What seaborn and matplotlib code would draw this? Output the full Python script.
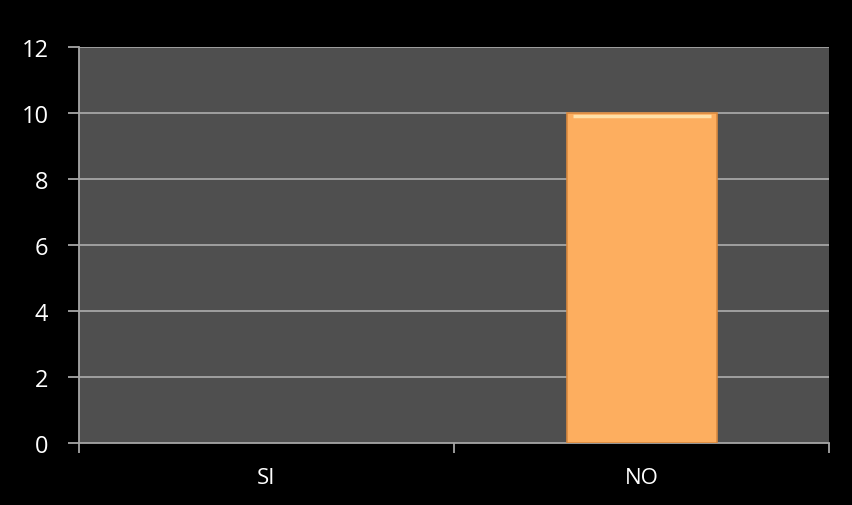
import matplotlib
matplotlib.use("Agg")
import matplotlib.pyplot as plt
import seaborn as sns
import pandas as pd
from matplotlib.ticker import FixedLocator

categories = ["SI", "NO"]
values = [0, 10]
yticks = [0, 2, 4, 6, 8, 10, 12]

df = pd.DataFrame({"cat": categories, "val": values})

sns.set_style("dark")
plt.rcParams['font.family'] = ['Open Sans', 'DejaVu Sans']

fig = plt.figure(figsize=(8.52, 5.06), dpi=100, facecolor="black")
ax = fig.add_axes([79/852, 1-444/506, (829-79)/852, (444-48)/506])
ax.set_facecolor("#4f4f4f")

sns.barplot(data=df, x="cat", y="val", ax=ax, color="#fdae5f", width=0.40,
            edgecolor="#d9893f", linewidth=1.2, saturation=1, zorder=3)

# hide outline for empty bars, add bevel highlight on filled ones
for p in ax.patches:
    if p.get_height() == 0:
        p.set_linewidth(0)
    else:
        x0, w, h = p.get_x(), p.get_width(), p.get_height()
        ax.plot([x0 + w * 0.04, x0 + w * 0.96], [h - 0.08, h - 0.08],
                color="#ffe0a8", lw=2.5, zorder=4, solid_capstyle="butt")

ax.set_xlim(-0.5, len(categories) - 0.5)
ax.set_ylim(0, 12)
ax.set_yticks(yticks)
ax.set_yticklabels([str(t) for t in yticks])
ax.grid(False)
for t in yticks[1:]:
    ax.axhline(t, color="#a6a6a6", lw=1.3, zorder=1)

ax.set_xlabel("")
ax.set_ylabel("")
ax.tick_params(axis="y", which="major", colors="#a6a6a6", labelcolor="white",
               labelsize=17, length=8, width=1.3, direction="out", left=True, pad=14)
ax.tick_params(axis="x", which="major", length=0, labelcolor="white", labelsize=16, pad=17)
ax.xaxis.set_minor_locator(FixedLocator([-0.5, 0.5, 1.5]))
ax.tick_params(axis="x", which="minor", colors="#a6a6a6", length=7, width=1.3,
               direction="out", bottom=True)

for side in ["top", "right"]:
    ax.spines[side].set_visible(False)
for side in ["left", "bottom"]:
    ax.spines[side].set_visible(True)
    ax.spines[side].set_color("#a6a6a6")
    ax.spines[side].set_linewidth(1.3)

fig.savefig("out.png", dpi=100, facecolor="black")
